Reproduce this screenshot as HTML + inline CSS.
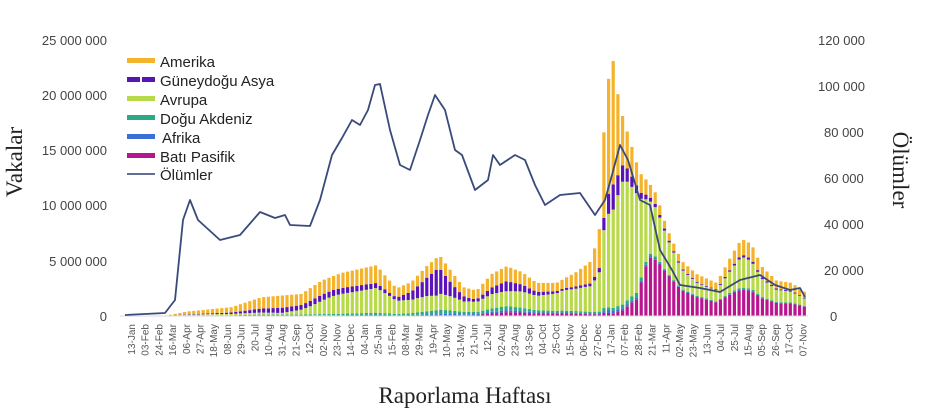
<!DOCTYPE html>
<html><head><meta charset="utf-8"><style>
html,body{margin:0;padding:0;background:#fff;width:945px;height:411px;overflow:hidden}
svg{display:block}
</style></head><body>
<svg id="c" width="945" height="411" xmlns="http://www.w3.org/2000/svg" font-family="Liberation Sans, sans-serif">
<g id="bars"></g>
<line x1="120" y1="316" x2="808" y2="316" stroke="#d9d9d9" stroke-width="1"/>
<polyline id="deaths" fill="none" stroke="#3a4a7a" stroke-width="1.8" stroke-linejoin="round"/>
<g font-size="13" fill="#444" text-anchor="end">
<text x="107" y="45">25 000 000</text>
<text x="107" y="100">20 000 000</text>
<text x="107" y="155">15 000 000</text>
<text x="107" y="210">10 000 000</text>
<text x="107" y="266">5 000 000</text>
<text x="107" y="321">0</text>
</g>
<g font-size="13" fill="#444" text-anchor="start">
<text x="818" y="45">120 000</text>
<text x="818" y="91">100 000</text>
<text x="824" y="137">80 000</text>
<text x="824" y="183">60 000</text>
<text x="824" y="229">40 000</text>
<text x="824" y="275">20 000</text>
<text x="830" y="321">0</text>
</g>
<text transform="translate(22,162) rotate(-90)" font-family="Liberation Serif, serif" font-size="23" text-anchor="middle" fill="#222">Vakalar</text>
<text transform="translate(893,170) rotate(90)" font-family="Liberation Serif, serif" font-size="23" text-anchor="middle" fill="#222">Ölümler</text>
<text x="465" y="403" font-family="Liberation Serif, serif" font-size="23" text-anchor="middle" fill="#222">Raporlama Haftası</text>
<g id="xl" font-size="10" fill="#555"></g>
<g font-size="15" fill="#222">
<rect x="127" y="58" width="28" height="5" fill="#f4b32a"/><text x="160" y="67">Amerika</text>
<rect x="127" y="77" width="13" height="5" fill="#5a13b8"/><rect x="142" y="77" width="13" height="5" fill="#5a13b8"/><text x="160" y="86">Güneydoğu Asya</text>
<rect x="127" y="96" width="28" height="5" fill="#b8d94a"/><text x="160" y="105">Avrupa</text>
<rect x="127" y="115" width="28" height="5" fill="#2aaa85"/><text x="160" y="124">Doğu Akdeniz</text>
<rect x="127" y="134" width="28" height="5" fill="#3b6fd8"/><text x="162" y="143">Afrika</text>
<rect x="127" y="153" width="28" height="5" fill="#b8168f"/><text x="160" y="162">Batı Pasifik</text>
<line x1="127" y1="174" x2="155" y2="174" stroke="#2f3f73" stroke-width="1.5"/><text x="160" y="180">Ölümler</text>
</g>
</svg>
<script>
const labels=["13-Jan","03-Feb","24-Feb","16-Mar","06-Apr","27-Apr","18-May","08-Jun","29-Jun","20-Jul","10-Aug","31-Aug","21-Sep","12-Oct","02-Nov","23-Nov","14-Dec","04-Jan","25-Jan","15-Feb","08-Mar","29-Mar","19-Apr","10-May","31-May","21-Jun","12-Jul","02-Aug","23-Aug","13-Sep","04-Oct","25-Oct","15-Nov","06-Dec","27-Dec","17-Jan","07-Feb","28-Feb","21-Mar","11-Apr","02-May","23-May","13-Jun","04-Jul","25-Jul","15-Aug","05-Sep","26-Sep","17-Oct","07-Nov"];
const NS="http://www.w3.org/2000/svg";
let xl=document.getElementById('xl');
labels.forEach((l,i)=>{let x=135+i*13.7;let t=document.createElementNS(NS,'text');t.setAttribute('transform',`translate(${x},324) rotate(-90)`);t.setAttribute('text-anchor','end');t.textContent=l;xl.appendChild(t);});
function interp(pts,x){for(let i=0;i<pts.length-1;i++){if(x>=pts[i][0]&&x<=pts[i+1][0]){let f=(x-pts[i][0])/(pts[i+1][0]-pts[i][0]);return pts[i][1]+f*(pts[i+1][1]-pts[i][1]);}}return pts[pts.length-1][1];}
const tot=[[125,0],[165,0.05],[185,0.4],[230,0.8],[260,1.7],[300,2.0],[320,3.2],[340,3.9],[360,4.3],[375,4.6],[385,3.5],[395,2.5],[410,3.1],[425,4.5],[438,5.5],[450,4.0],[462,2.6],[475,2.3],[490,3.8],[505,4.5],[520,4.0],[535,3.0],[555,3.0],[575,4.0],[590,5.0],[598,8],[604,20],[611,23.5],[618,19],[628,16],[638,13],[648,12],[655,11],[665,8],[680,5],[695,3.8],[715,3.0],[730,5.5],[740,7.0],[750,6.5],[760,4.5],[775,3.2],[790,3.0],[806,2.0]];
const sh=[[125,[.4,.1,.3,.1,.05,.05]],[190,[.6,.1,.2,.05,.03,.02]],[280,[.6,.25,.08,.05,.02,0]],[330,[.35,.15,.45,.03,.02,0]],[390,[.35,.08,.5,.04,.02,.01]],[435,[.2,.45,.25,.07,.02,.01]],[470,[.35,.1,.4,.08,.04,.03]],[505,[.3,.2,.3,.08,.04,.08]],[560,[.25,.05,.55,.05,.03,.07]],[598,[.45,.05,.45,.02,.01,.02]],[611,[.5,.1,.37,.01,.01,.01]],[622,[.22,.08,.64,.02,.01,.03]],[635,[.15,.05,.65,.03,.01,.11]],[647,[.1,.03,.4,.02,.01,.44]],[665,[.08,.02,.4,.01,.01,.48]],[700,[.2,.02,.3,.02,.01,.45]],[740,[.2,.03,.4,.02,.01,.34]],[806,[.25,.03,.3,.02,.01,.39]]];
function share(x){for(let i=0;i<sh.length-1;i++){if(x>=sh[i][0]&&x<=sh[i+1][0]){let f=(x-sh[i][0])/(sh[i+1][0]-sh[i][0]);return sh[i][1].map((v,k)=>v+f*(sh[i+1][1][k]-v));}}return sh[sh.length-1][1];}
const cols=["#f4b32a","#5a13b8","#b8d94a","#2aaa85","#3b6fd8","#b8168f"];
const order=[5,4,3,2,1,0];
let bars=document.getElementById('bars');let s='';
for(let x=127;x<=806;x+=4.66){let T=interp(tot,x);let s6=share(x);let y=316;for(const k of order){let h=T*s6[k]*11.04;if(h<=0)continue;y-=h;s+=`<rect x="${x.toFixed(1)}" y="${y.toFixed(1)}" width="3.2" height="${h.toFixed(1)}" fill="${cols[k]}"/>`;}}
bars.innerHTML=s;
const d=[[125,315],[165,313],[175,300],[183,220],[190,200],[198,220],[220,240],[240,235],[260,212],[275,218],[285,215],[290,225],[310,226],[320,200],[332,155],[342,138],[352,120],[360,125],[368,110],[375,85],[380,84],[390,130],[400,165],[410,170],[420,140],[428,115],[435,95],[445,110],[455,150],[462,155],[475,190],[488,180],[493,155],[500,165],[515,155],[525,160],[535,185],[545,205],[560,195],[580,193],[595,215],[605,200],[612,175],[620,145],[628,160],[640,200],[650,205],[660,250],[672,270],[680,285],[700,288],[720,292],[740,280],[760,275],[775,285],[790,290],[800,288],[805,297]];
document.getElementById('deaths').setAttribute('points',d.map(p=>p.join(',')).join(' '));
</script>
</body></html>
